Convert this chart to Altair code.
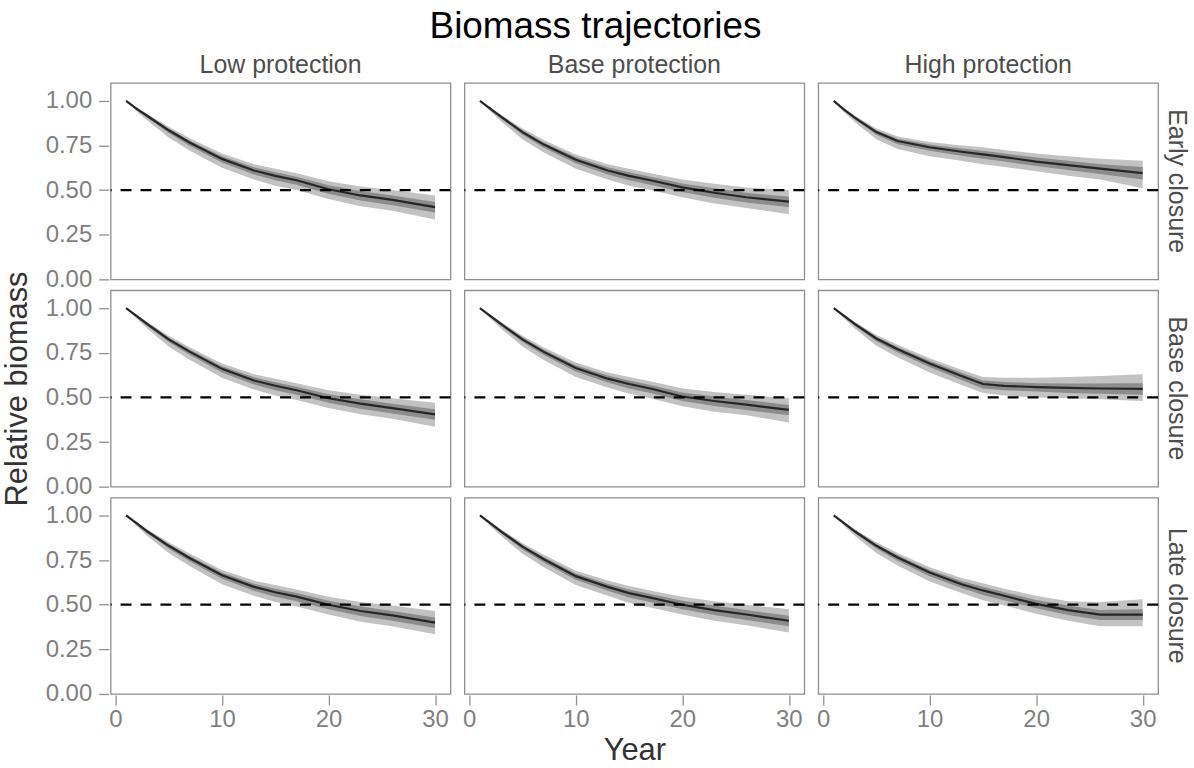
import altair as alt
import pandas as pd

PROTECTION = ["Low protection", "Base protection", "High protection"]
CLOSURE = ["Early closure", "Base closure", "Late closure"]
YEARS = [1, 2, 3, 5, 7, 10, 13, 15, 17, 20, 23, 26, 30]

# --- Early closure row ---
LOW_EARLY_MED    = [1.00, 0.955, 0.915, 0.835, 0.765, 0.675, 0.610, 0.580, 0.555, 0.505, 0.470, 0.445, 0.405]
LOW_EARLY_OUT_LO = [1.00, 0.940, 0.890, 0.795, 0.720, 0.625, 0.560, 0.525, 0.500, 0.450, 0.410, 0.385, 0.335]
LOW_EARLY_OUT_HI = [1.00, 0.963, 0.927, 0.855, 0.790, 0.705, 0.645, 0.620, 0.595, 0.550, 0.520, 0.500, 0.470]
LOW_EARLY_IN_LO  = [1.00, 0.949, 0.905, 0.820, 0.747, 0.655, 0.588, 0.555, 0.530, 0.480, 0.442, 0.415, 0.375]
LOW_EARLY_IN_HI  = [1.00, 0.960, 0.923, 0.845, 0.777, 0.690, 0.628, 0.600, 0.575, 0.527, 0.495, 0.470, 0.433]

BASE_EARLY_MED    = [1.00, 0.955, 0.910, 0.825, 0.755, 0.670, 0.610, 0.580, 0.555, 0.515, 0.485, 0.460, 0.435]
BASE_EARLY_OUT_LO = [1.00, 0.940, 0.885, 0.785, 0.710, 0.620, 0.560, 0.525, 0.500, 0.460, 0.425, 0.400, 0.365]
BASE_EARLY_OUT_HI = [1.00, 0.963, 0.922, 0.845, 0.780, 0.700, 0.645, 0.620, 0.595, 0.560, 0.535, 0.515, 0.500]
BASE_EARLY_IN_LO  = [1.00, 0.949, 0.900, 0.810, 0.737, 0.650, 0.588, 0.555, 0.530, 0.490, 0.457, 0.430, 0.405]
BASE_EARLY_IN_HI  = [1.00, 0.960, 0.918, 0.835, 0.767, 0.685, 0.628, 0.600, 0.575, 0.537, 0.510, 0.485, 0.463]

HIGH_EARLY_MED    = [1.00, 0.950, 0.905, 0.825, 0.775, 0.740, 0.715, 0.700, 0.685, 0.660, 0.640, 0.620, 0.595]
HIGH_EARLY_OUT_LO = [1.00, 0.935, 0.880, 0.785, 0.730, 0.690, 0.665, 0.645, 0.630, 0.605, 0.580, 0.560, 0.510]
HIGH_EARLY_OUT_HI = [1.00, 0.958, 0.917, 0.845, 0.800, 0.770, 0.750, 0.740, 0.725, 0.705, 0.690, 0.675, 0.665]
HIGH_EARLY_IN_LO  = [1.00, 0.944, 0.895, 0.810, 0.757, 0.720, 0.693, 0.675, 0.660, 0.635, 0.612, 0.590, 0.560]
HIGH_EARLY_IN_HI  = [1.00, 0.955, 0.913, 0.835, 0.787, 0.755, 0.733, 0.720, 0.705, 0.682, 0.665, 0.645, 0.630]

# --- Base closure row ---
LOW_BASE_MED    = [1.00, 0.955, 0.910, 0.825, 0.755, 0.660, 0.595, 0.565, 0.540, 0.495, 0.465, 0.440, 0.405]
LOW_BASE_OUT_LO = [1.00, 0.940, 0.885, 0.785, 0.710, 0.610, 0.545, 0.510, 0.485, 0.440, 0.405, 0.380, 0.335]
LOW_BASE_OUT_HI = [1.00, 0.963, 0.922, 0.845, 0.780, 0.690, 0.630, 0.605, 0.580, 0.540, 0.515, 0.495, 0.470]
LOW_BASE_IN_LO  = [1.00, 0.949, 0.900, 0.810, 0.737, 0.640, 0.573, 0.540, 0.515, 0.470, 0.437, 0.410, 0.375]
LOW_BASE_IN_HI  = [1.00, 0.960, 0.918, 0.835, 0.767, 0.675, 0.613, 0.585, 0.560, 0.517, 0.490, 0.465, 0.433]

BASE_BASE_MED    = [1.00, 0.955, 0.910, 0.825, 0.755, 0.665, 0.605, 0.575, 0.550, 0.505, 0.480, 0.460, 0.430]
BASE_BASE_OUT_LO = [1.00, 0.940, 0.885, 0.785, 0.710, 0.615, 0.555, 0.520, 0.495, 0.450, 0.420, 0.400, 0.360]
BASE_BASE_OUT_HI = [1.00, 0.963, 0.922, 0.845, 0.780, 0.695, 0.640, 0.615, 0.590, 0.550, 0.530, 0.515, 0.495]
BASE_BASE_IN_LO  = [1.00, 0.949, 0.900, 0.810, 0.737, 0.645, 0.583, 0.550, 0.525, 0.480, 0.452, 0.430, 0.400]
BASE_BASE_IN_HI  = [1.00, 0.960, 0.918, 0.835, 0.767, 0.680, 0.623, 0.595, 0.570, 0.527, 0.505, 0.485, 0.458]

HIGH_BASE_MED    = [1.00, 0.955, 0.910, 0.830, 0.770, 0.690, 0.620, 0.575, 0.565, 0.558, 0.553, 0.550, 0.548]
HIGH_BASE_OUT_LO = [1.00, 0.940, 0.885, 0.790, 0.725, 0.640, 0.570, 0.525, 0.510, 0.500, 0.495, 0.490, 0.480]
HIGH_BASE_OUT_HI = [1.00, 0.963, 0.922, 0.850, 0.795, 0.720, 0.655, 0.615, 0.610, 0.610, 0.615, 0.620, 0.630]
HIGH_BASE_IN_LO  = [1.00, 0.949, 0.900, 0.815, 0.752, 0.670, 0.598, 0.550, 0.540, 0.533, 0.525, 0.520, 0.515]
HIGH_BASE_IN_HI  = [1.00, 0.960, 0.918, 0.840, 0.782, 0.705, 0.638, 0.595, 0.587, 0.580, 0.578, 0.578, 0.580]

# --- Late closure row ---
LOW_LATE_MED    = [1.00, 0.955, 0.910, 0.830, 0.760, 0.665, 0.600, 0.570, 0.545, 0.500, 0.465, 0.440, 0.400]
LOW_LATE_OUT_LO = [1.00, 0.940, 0.885, 0.790, 0.715, 0.615, 0.550, 0.515, 0.490, 0.445, 0.405, 0.380, 0.335]
LOW_LATE_OUT_HI = [1.00, 0.963, 0.922, 0.850, 0.785, 0.695, 0.635, 0.610, 0.585, 0.545, 0.515, 0.495, 0.465]
LOW_LATE_IN_LO  = [1.00, 0.949, 0.900, 0.815, 0.742, 0.645, 0.578, 0.545, 0.520, 0.475, 0.437, 0.410, 0.370]
LOW_LATE_IN_HI  = [1.00, 0.960, 0.918, 0.840, 0.772, 0.680, 0.618, 0.590, 0.565, 0.522, 0.490, 0.465, 0.428]

BASE_LATE_MED    = [1.00, 0.955, 0.910, 0.825, 0.755, 0.660, 0.600, 0.565, 0.540, 0.500, 0.470, 0.445, 0.410]
BASE_LATE_OUT_LO = [1.00, 0.940, 0.885, 0.785, 0.710, 0.610, 0.550, 0.510, 0.485, 0.445, 0.410, 0.385, 0.345]
BASE_LATE_OUT_HI = [1.00, 0.963, 0.922, 0.845, 0.780, 0.690, 0.635, 0.605, 0.580, 0.545, 0.520, 0.500, 0.475]
BASE_LATE_IN_LO  = [1.00, 0.949, 0.900, 0.810, 0.737, 0.640, 0.578, 0.540, 0.515, 0.475, 0.442, 0.415, 0.380]
BASE_LATE_IN_HI  = [1.00, 0.960, 0.918, 0.835, 0.767, 0.675, 0.618, 0.585, 0.560, 0.522, 0.495, 0.470, 0.438]

HIGH_LATE_MED    = [1.00, 0.955, 0.910, 0.830, 0.765, 0.680, 0.615, 0.580, 0.550, 0.505, 0.470, 0.445, 0.445]
HIGH_LATE_OUT_LO = [1.00, 0.940, 0.885, 0.790, 0.720, 0.630, 0.565, 0.525, 0.495, 0.450, 0.410, 0.380, 0.380]
HIGH_LATE_OUT_HI = [1.00, 0.963, 0.922, 0.850, 0.790, 0.710, 0.650, 0.620, 0.590, 0.550, 0.520, 0.515, 0.530]
HIGH_LATE_IN_LO  = [1.00, 0.949, 0.900, 0.815, 0.747, 0.660, 0.593, 0.555, 0.525, 0.480, 0.442, 0.415, 0.415]
HIGH_LATE_IN_HI  = [1.00, 0.960, 0.918, 0.840, 0.777, 0.695, 0.633, 0.600, 0.570, 0.527, 0.495, 0.470, 0.475]

PANELS = [
    ("Low protection", "Early closure", LOW_EARLY_MED, LOW_EARLY_OUT_LO, LOW_EARLY_OUT_HI, LOW_EARLY_IN_LO, LOW_EARLY_IN_HI),
    ("Base protection", "Early closure", BASE_EARLY_MED, BASE_EARLY_OUT_LO, BASE_EARLY_OUT_HI, BASE_EARLY_IN_LO, BASE_EARLY_IN_HI),
    ("High protection", "Early closure", HIGH_EARLY_MED, HIGH_EARLY_OUT_LO, HIGH_EARLY_OUT_HI, HIGH_EARLY_IN_LO, HIGH_EARLY_IN_HI),
    ("Low protection", "Base closure", LOW_BASE_MED, LOW_BASE_OUT_LO, LOW_BASE_OUT_HI, LOW_BASE_IN_LO, LOW_BASE_IN_HI),
    ("Base protection", "Base closure", BASE_BASE_MED, BASE_BASE_OUT_LO, BASE_BASE_OUT_HI, BASE_BASE_IN_LO, BASE_BASE_IN_HI),
    ("High protection", "Base closure", HIGH_BASE_MED, HIGH_BASE_OUT_LO, HIGH_BASE_OUT_HI, HIGH_BASE_IN_LO, HIGH_BASE_IN_HI),
    ("Low protection", "Late closure", LOW_LATE_MED, LOW_LATE_OUT_LO, LOW_LATE_OUT_HI, LOW_LATE_IN_LO, LOW_LATE_IN_HI),
    ("Base protection", "Late closure", BASE_LATE_MED, BASE_LATE_OUT_LO, BASE_LATE_OUT_HI, BASE_LATE_IN_LO, BASE_LATE_IN_HI),
    ("High protection", "Late closure", HIGH_LATE_MED, HIGH_LATE_OUT_LO, HIGH_LATE_OUT_HI, HIGH_LATE_IN_LO, HIGH_LATE_IN_HI),
]

rows = []
for prot, clos, med, olo, ohi, ilo, ihi in PANELS:
    for i, yr in enumerate(YEARS):
        rows.append({"protection": prot, "closure": clos, "year": yr,
                     "med": med[i], "out_lo": olo[i], "out_hi": ohi[i],
                     "in_lo": ilo[i], "in_hi": ihi[i]})
df = pd.DataFrame(rows)

FONT = "Liberation Sans"

xscale = alt.Scale(domain=[-0.45, 31.45], nice=False, zero=False)
yscale = alt.Scale(domain=[0, 1.1], nice=False)
xaxis = alt.Axis(values=[0, 10, 20, 30], title=None, labelFlush=False, labelPadding=3)
yaxis = alt.Axis(values=[0, 0.25, 0.5, 0.75, 1.0], format=".2f", title=None, labelFlush=False, labelPadding=7)

base = alt.Chart()

outer = base.mark_area(color="#c2c2c2", opacity=1).encode(
    x=alt.X("year:Q", scale=xscale, axis=xaxis),
    y=alt.Y("out_lo:Q", scale=yscale, axis=yaxis),
    y2="out_hi:Q",
)
inner = base.mark_area(color="#8c8c8c", opacity=1).encode(
    x="year:Q",
    y="in_lo:Q",
    y2="in_hi:Q",
)
line = base.mark_line(color="#262626", strokeWidth=2.2).encode(
    x="year:Q",
    y="med:Q",
)
rule = base.mark_rule(color="black", strokeWidth=2.2, strokeDash=[11, 9]).encode(
    y=alt.datum(0.5)
).transform_filter(alt.datum.year == 1)

layered = alt.layer(outer, inner, line, rule, data=df).properties(width=341, height=197)

chart = layered.facet(
    row=alt.Row("closure:N", sort=CLOSURE, title="Relative biomass",
                header=alt.Header(labelOrient="right", labelAngle=90, labelFontSize=25,
                                  labelColor="#4d4d4d", labelFont=FONT, labelPadding=4,
                                  titleOrient="left", titleFontSize=31, titleFont=FONT,
                                  titleColor="#333333", titleFontWeight="normal", titlePadding=1)),
    column=alt.Column("protection:N", sort=PROTECTION, title="Year",
                      header=alt.Header(labelOrient="top", labelFontSize=25,
                                        labelColor="#4d4d4d", labelFont=FONT, labelPadding=4,
                                        titleOrient="bottom", titleFontSize=31, titleFont=FONT,
                                        titleColor="#333333", titleFontWeight="normal", titlePadding=-6)),
    spacing={"row": 9, "column": 10},
).properties(
    title=alt.TitleParams("Biomass trajectories", fontSize=37, font=FONT, fontWeight="normal",
                          color="black", anchor="middle", offset=7),
    padding={"left": 1, "top": 7, "right": 5, "bottom": 0},
).configure_view(
    stroke="#8f8f8f", strokeWidth=1.3
).configure_axis(
    domain=False, grid=False, ticks=True, tickSize=10, tickColor="#8f8f8f", tickWidth=1.3,
    labelFont=FONT, labelFontSize=24, labelColor="#7f7f7f",
)

chart.save("out.html", embed_options={"renderer": "svg", "actions": False})
